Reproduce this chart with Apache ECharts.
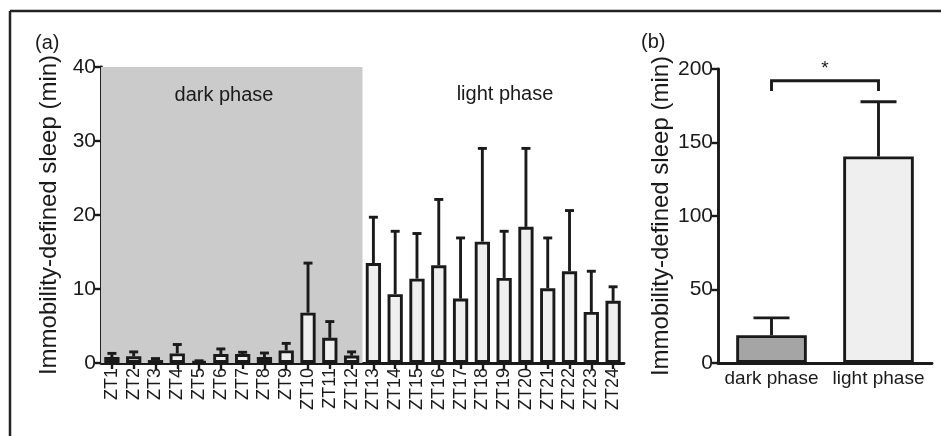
<!DOCTYPE html>
<html>
<head>
<meta charset="utf-8">
<script src="https://cdn.jsdelivr.net/npm/echarts@6/dist/echarts.min.js"></script>
<style>html,body{margin:0;padding:0;background:#fff;}#c{width:941px;height:436px;}</style>
</head>
<body>
<div id="c"></div>
<script>
var hours = ['ZT1','ZT2','ZT3','ZT4','ZT5','ZT6','ZT7','ZT8','ZT9','ZT10','ZT11','ZT12','ZT13','ZT14','ZT15','ZT16','ZT17','ZT18','ZT19','ZT20','ZT21','ZT22','ZT23','ZT24'];
var hourMean = [0.8,0.9,0.4,1.3,0.2,1.2,1.2,0.8,1.7,6.8,3.4,1.0,13.5,9.3,11.4,13.2,8.7,16.4,11.5,18.4,10.1,12.4,6.9,8.4];
var hourUpper = [1.3,1.5,0.6,2.5,0.3,1.9,1.45,1.35,2.65,13.5,5.6,1.5,19.7,17.8,17.5,22.1,16.9,29.0,17.8,29.0,16.9,20.6,12.4,10.3];
var phases = ['dark phase','light phase'];
var phaseMean = [18.9,140.5];
var phaseUpper = [30.7,177.7];
var darkHours = 12;
var yTicksA = {min:0, max:40, interval:10};
var yTicksB = {min:0, max:200, interval:50};
var bracket = {left:0, right:1, top:192, leg:185, label:'*'};

var FONT = '"Liberation Sans", Arial, Helvetica, sans-serif';
var INK = '#1a1a1a';
var LW = 2.9;
var chart = echarts.init(document.getElementById('c'), null, {renderer:'canvas'});

function errItem(capHalf){
  return function(params, api){
    var x = api.value(0);
    var p0 = api.coord([x, api.value(1)]);
    var p1 = api.coord([x, api.value(2)]);
    var st = {stroke: INK, lineWidth: LW};
    return {type:'group', children:[
      {type:'line', shape:{x1:p0[0], y1:p0[1], x2:p1[0], y2:p1[1]}, style:st},
      {type:'line', shape:{x1:p1[0]-capHalf, y1:p1[1], x2:p1[0]+capHalf, y2:p1[1]}, style:st}
    ]};
  };
}

var axisCommon = {
  axisLine:{show:true, lineStyle:{color:INK, width:LW}},
  splitLine:{show:false}
};

var option = {
  animation:false,
  backgroundColor:'#ffffff',
  textStyle:{fontFamily:FONT},
  grid:[
    {left:101, right:317, top:67, bottom:73},
    {left:718, right:9, top:69, bottom:73}
  ],
  xAxis:[
    Object.assign({type:'category', gridIndex:0, data:hours,
      axisTick:{show:true, alignWithLabel:true, length:6, lineStyle:{color:INK, width:2.4}},
      axisLabel:{rotate:90, fontSize:18, color:INK, margin:5, interval:0, fontFamily:FONT}
    }, axisCommon),
    Object.assign({type:'category', gridIndex:1, data:phases,
      axisTick:{show:false},
      axisLabel:{fontSize:19, color:INK, margin:6, interval:0, fontFamily:FONT}
    }, axisCommon)
  ],
  yAxis:[
    Object.assign({type:'value', gridIndex:0, min:yTicksA.min, max:yTicksA.max, interval:yTicksA.interval,
      axisTick:{show:true, length:6, lineStyle:{color:INK, width:2.4}},
      axisLabel:{fontSize:21, color:INK, margin:5, fontFamily:FONT},
      name:'Immobility-defined sleep (min)', nameLocation:'middle', nameGap:40,
      nameTextStyle:{fontSize:24, color:INK, fontFamily:FONT}
    }, axisCommon),
    Object.assign({type:'value', gridIndex:1, min:yTicksB.min, max:yTicksB.max, interval:yTicksB.interval,
      axisTick:{show:true, length:6, lineStyle:{color:INK, width:2.4}},
      axisLabel:{fontSize:21, color:INK, margin:5, fontFamily:FONT},
      name:'Immobility-defined sleep (min)', nameLocation:'middle', nameGap:45,
      nameTextStyle:{fontSize:24, color:INK, fontFamily:FONT}
    }, axisCommon)
  ],
  series:[
    {
      type:'custom', xAxisIndex:0, yAxisIndex:0, z:1, silent:true,
      data:[[0, darkHours-1, yTicksA.max]],
      renderItem:function(params, api){
        var band = api.size([1,0])[0];
        var a = api.coord([api.value(0), api.value(2)]);
        var b = api.coord([api.value(1), 0]);
        return {type:'rect', shape:{x:a[0]-band/2, y:a[1], width:(b[0]+band/2)-(a[0]-band/2), height:b[1]-a[1]}, style:{fill:'#cbcbcb'}};
      }
    },
    {
      type:'bar', xAxisIndex:0, yAxisIndex:0, z:2, barWidth:'70%',
      data:hourMean,
      itemStyle:{color:'#efefef', borderColor:INK, borderWidth:LW}
    },
    {
      type:'custom', xAxisIndex:0, yAxisIndex:0, z:3,
      data:hourMean.map(function(m,i){return [i, m, hourUpper[i]];}),
      renderItem:errItem(4.5)
    },
    {
      type:'bar', xAxisIndex:1, yAxisIndex:1, z:2, barWidth:'66%',
      data:phaseMean.map(function(v,i){return {value:v, itemStyle:{color: i===0 ? '#a5a5a5' : '#efefef'}};}),
      itemStyle:{borderColor:INK, borderWidth:LW}
    },
    {
      type:'custom', xAxisIndex:1, yAxisIndex:1, z:3,
      data:phaseMean.map(function(m,i){return [i, m, phaseUpper[i]];}),
      renderItem:errItem(18)
    },
    {
      type:'custom', xAxisIndex:1, yAxisIndex:1, z:3,
      data:[[bracket.left, bracket.right, bracket.top, bracket.leg]],
      renderItem:function(params, api){
        var l0 = api.coord([api.value(0), api.value(3)]);
        var l1 = api.coord([api.value(0), api.value(2)]);
        var r1 = api.coord([api.value(1), api.value(2)]);
        var r0 = api.coord([api.value(1), api.value(3)]);
        return {type:'group', children:[
          {type:'polyline', shape:{points:[l0,l1,r1,r0]}, style:{stroke:INK, lineWidth:LW, fill:null}},
          {type:'text', style:{text:bracket.label, x:(l1[0]+r1[0])/2, y:l1[1]-2, align:'center', verticalAlign:'bottom', fontSize:19, fill:INK, fontFamily:FONT}}
        ]};
      }
    }
  ],
  graphic:[
    {type:'line', z:100, shape:{x1:10, y1:11, x2:941, y2:11}, style:{stroke:'#222', lineWidth:2.5}},
    {type:'line', z:100, shape:{x1:10, y1:11, x2:10, y2:436}, style:{stroke:'#222', lineWidth:2.5}},
    {type:'text', z:100, left:35, top:33, style:{text:'(a)', fontSize:20, fill:INK, fontFamily:FONT}},
    {type:'text', z:100, left:641, top:32, style:{text:'(b)', fontSize:20, fill:INK, fontFamily:FONT}},
    {type:'text', z:100, x:224, y:95, style:{text:'dark phase', fontSize:20, fill:INK, fontFamily:FONT, align:'center', verticalAlign:'middle'}},
    {type:'text', z:100, x:505, y:94, style:{text:'light phase', fontSize:20, fill:INK, fontFamily:FONT, align:'center', verticalAlign:'middle'}}
  ]
};
chart.setOption(option);
</script>
</body>
</html>
